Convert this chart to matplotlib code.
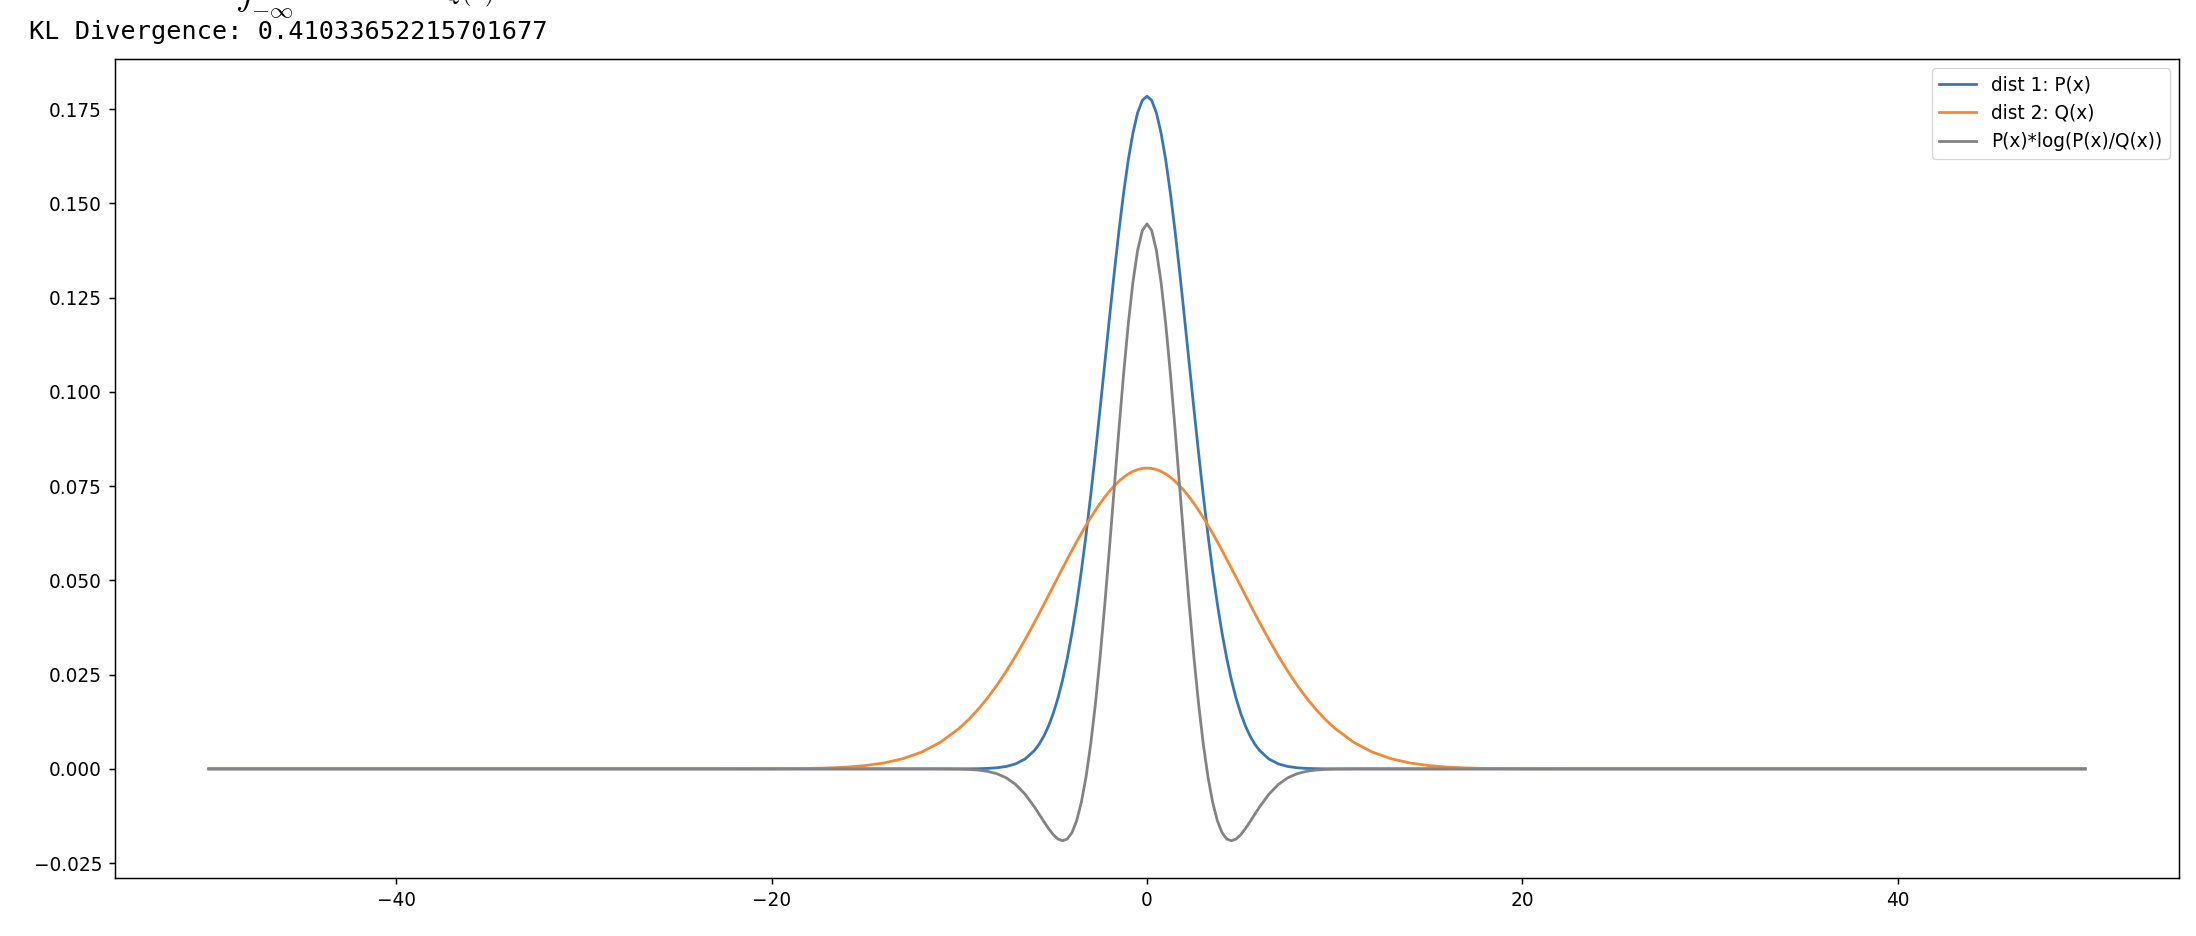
import matplotlib
matplotlib.use("Agg")
import matplotlib.pyplot as plt

# x positions of the read points
x_vals = [-50, -40, -30, -25, -22, -20, -19, -18, -17, -16, -15, -14, -13, -12, -11, -10, -9.5, -9, -8.5, -8,
          -7.5, -7, -6.5, -6, -5.75, -5.5, -5.25, -5, -4.75, -4.5, -4.25, -4, -3.75, -3.5, -3.25, -3,
          -2.75, -2.5, -2.25, -2, -1.75, -1.5, -1.25, -1, -0.75, -0.5, -0.25, 0,
          0.25, 0.5, 0.75, 1, 1.25, 1.5, 1.75, 2, 2.25, 2.5, 2.75, 3, 3.25, 3.5, 3.75, 4,
          4.25, 4.5, 4.75, 5, 5.25, 5.5, 5.75, 6, 6.5, 7, 7.5, 8, 8.5, 9, 9.5, 10,
          11, 12, 13, 14, 15, 16, 17, 18, 19, 20, 22, 25, 30, 40, 50]

# dist 1: P(x)
p_vals = [0.0, 0.0, 0.0, 0.0, 0.0, 0.0, 0.0, 0.0, 0.0, 0.0, 0.0, 0.0, 0.0, 0.0, 0.000001, 0.000008, 0.000022, 0.000054, 0.000130, 0.000296,
          0.000643, 0.001329, 0.002610, 0.004875, 0.006539, 0.008663, 0.011335, 0.014645, 0.018687, 0.023549, 0.029308, 0.036021, 0.043722, 0.052410, 0.062044, 0.072537,
          0.083751, 0.095497, 0.107538, 0.119593, 0.131347, 0.142465, 0.152604, 0.161434, 0.168653, 0.174007, 0.177300, 0.178412,
          0.177300, 0.174007, 0.168653, 0.161434, 0.152604, 0.142465, 0.131347, 0.119593, 0.107538, 0.095497, 0.083751, 0.072537, 0.062044, 0.052410, 0.043722, 0.036021,
          0.029308, 0.023549, 0.018687, 0.014645, 0.011335, 0.008663, 0.006539, 0.004875, 0.002610, 0.001329, 0.000643, 0.000296, 0.000130, 0.000054, 0.000022, 0.000008,
          0.000001, 0.0, 0.0, 0.0, 0.0, 0.0, 0.0, 0.0, 0.0, 0.0, 0.0, 0.0, 0.0, 0.0, 0.0]

# dist 2: Q(x)
q_vals = [0.0, 0.0, 0.0, 0.0, 0.000005, 0.000027, 0.000058, 0.000122, 0.000246, 0.000477, 0.000886, 0.001583, 0.002717, 0.004479, 0.007095, 0.010798, 0.013123, 0.015790, 0.018810, 0.022184,
          0.025903, 0.029945, 0.034273, 0.038837, 0.041187, 0.043570, 0.045976, 0.048394, 0.050812, 0.053217, 0.055597, 0.057938, 0.060227, 0.062451, 0.064594, 0.066645,
          0.068588, 0.070413, 0.072105, 0.073654, 0.075048, 0.076277, 0.077333, 0.078208, 0.078895, 0.079390, 0.079688, 0.079788,
          0.079688, 0.079390, 0.078895, 0.078208, 0.077333, 0.076277, 0.075048, 0.073654, 0.072105, 0.070413, 0.068588, 0.066645, 0.064594, 0.062451, 0.060227, 0.057938,
          0.055597, 0.053217, 0.050812, 0.048394, 0.045976, 0.043570, 0.041187, 0.038837, 0.034273, 0.029945, 0.025903, 0.022184, 0.018810, 0.015790, 0.013123, 0.010798,
          0.007095, 0.004479, 0.002717, 0.001583, 0.000886, 0.000477, 0.000246, 0.000122, 0.000058, 0.000027, 0.000005, 0.0, 0.0, 0.0, 0.0]

# P(x)*log(P(x)/Q(x))
kl_vals = [0.0, 0.0, 0.0, 0.0, 0.0, 0.0, 0.0, 0.0, 0.0, 0.0, 0.0, 0.0, 0.0, 0.0, -0.000009, -0.000058, -0.000138, -0.000308, -0.000647, -0.001277,
           -0.002372, -0.004133, -0.006706, -0.010090, -0.011997, -0.013944, -0.015810, -0.017423, -0.018588, -0.019067, -0.018601, -0.016918, -0.013758, -0.008893, -0.002152, 0.006551,
           0.017196, 0.029635, 0.043587, 0.058639, 0.074254, 0.089799, 0.104583, 0.117898, 0.129073, 0.137521, 0.142783, 0.144571,
           0.142783, 0.137521, 0.129073, 0.117898, 0.104583, 0.089799, 0.074254, 0.058639, 0.043587, 0.029635, 0.017196, 0.006551, -0.002152, -0.008893, -0.013758, -0.016918,
           -0.018601, -0.019067, -0.018588, -0.017423, -0.015810, -0.013944, -0.011997, -0.010090, -0.006706, -0.004133, -0.002372, -0.001277, -0.000647, -0.000308, -0.000138, -0.000058,
           -0.000009, 0.0, 0.0, 0.0, 0.0, 0.0, 0.0, 0.0, 0.0, 0.0, 0.0, 0.0, 0.0, 0.0, 0.0]

labels = ["dist 1: P(x)", "dist 2: Q(x)", "P(x)*log(P(x)/Q(x))"]
colors = ["#3877b5", "#f28a35", "#838383"]
kl_text = "KL Divergence: 0.41033652215701677"
formula_text = r"$D_{KL}(P\|Q) = \int_{-\infty}^{\infty}\quad P(x)\,\log\frac{P(x)}{Q(x)}\,dx$"

W, H = 2196, 936
s = 1.333
plt.rcParams.update({
    "font.size": 10 * s,
    "axes.linewidth": 0.8 * s,
    "xtick.major.size": 3.5 * s, "ytick.major.size": 3.5 * s,
    "xtick.major.width": 0.8 * s, "ytick.major.width": 0.8 * s,
    "xtick.major.pad": 3.5 * s, "ytick.major.pad": 3.5 * s,
    "lines.linewidth": 1.5 * s,
    "legend.fontsize": 10 * s,
    "mathtext.fontset": "cm",
})

fig = plt.figure(figsize=(W / 100, H / 100), dpi=100)
ax = fig.add_axes([115 / W, 1 - 878 / H, (2179 - 115) / W, (878 - 59) / H])

ax.plot(x_vals, p_vals, color=colors[0], label=labels[0])
ax.plot(x_vals, q_vals, color=colors[1], label=labels[1])
ax.plot(x_vals, kl_vals, color=colors[2], label=labels[2])
ax.legend(loc="upper right")

fig.text(29 / W, 1 - 39 / H, kl_text, fontsize=18.2, family="DejaVu Sans Mono", va="baseline")
fig.text(42 / W, 1 + 14 / H, formula_text, fontsize=24, va="baseline")

fig.savefig("out.png", dpi=100, facecolor="white")
